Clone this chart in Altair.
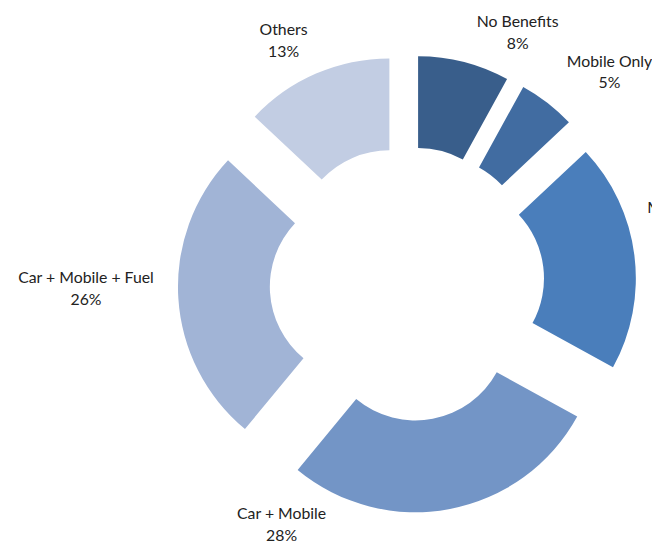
import altair as alt
import pandas as pd

# data
categories = ["No Benefits", "Mobile Only", "Mobile + Fuel", "Car + Mobile", "Car + Mobile + Fuel", "Others"]
values = [8, 5, 20, 28, 26, 13]
colors = ["#395E8B", "#416CA1", "#4A7EBB", "#7395C6", "#A1B4D6", "#C2CDE3"]

# layout (label first-line offsets from donut centre, pixels)
label_dx = [112, 205, 291, -127, -325, -125]
label_dy = [-265, -225, -77, 233, -6, -257]

df = pd.DataFrame({
    "category": categories,
    "value": values,
    "idx": list(range(len(categories))),
    "ldx": label_dx,
    "ldy": label_dy,
})

CX, CY = 404, 276
EXPLODE = 45

base = alt.Chart(df).transform_window(
    cum="sum(value)", sort=[alt.SortField("idx")], frame=[None, 0]
).transform_joinaggregate(
    total="sum(value)"
).transform_calculate(
    a0="2*PI*(datum.cum - datum.value)/datum.total",
    a1="2*PI*datum.cum/datum.total",
).transform_calculate(
    mid="(datum.a0 + datum.a1)/2",
).transform_calculate(
    dx=f"{EXPLODE}*sin(datum.mid)",
    dy=f"-{EXPLODE}*cos(datum.mid)",
    label="datum.category + '\\n' + datum.value + '%'",
)

arcs = base.mark_arc(radius=187, radius2=94, stroke=None).encode(
    theta=alt.Theta("a0:Q", scale=None),
    theta2="a1:Q",
    x=alt.value(CX),
    y=alt.value(CY),
    xOffset=alt.XOffset("dx:Q", scale=None),
    yOffset=alt.YOffset("dy:Q", scale=None),
    color=alt.Color("category:N", scale=alt.Scale(domain=categories, range=colors), legend=None),
)

labels = base.mark_text(
    font="Lato", fontSize=16, lineBreak="\n", lineHeight=22,
    align="center", baseline="middle", color="#222222", clip=True,
).encode(
    x=alt.value(CX),
    y=alt.value(CY),
    xOffset=alt.XOffset("ldx:Q", scale=None),
    yOffset=alt.YOffset("ldy:Q", scale=None),
    text="label:N",
)

chart = alt.layer(arcs, labels).properties(
    width=652, height=538,
    autosize=alt.AutoSizeParams(type="none"),
    padding=0,
).configure_view(stroke=None)

chart.save("out.html", embed_options={"renderer": "svg", "actions": False})
